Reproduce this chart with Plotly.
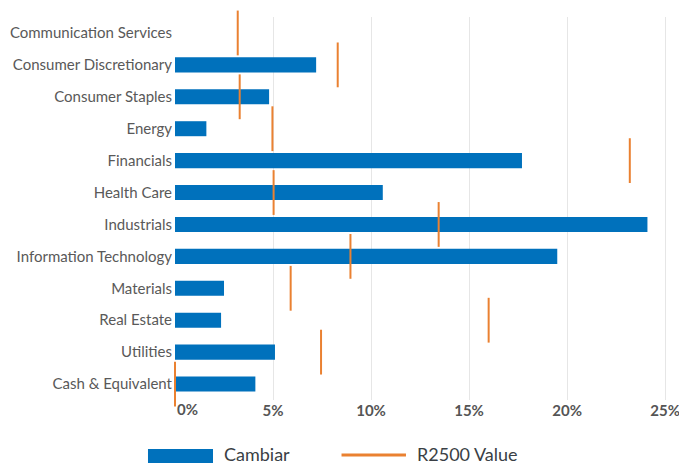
import plotly.graph_objects as go

categories = ["Communication Services", "Consumer Discretionary", "Consumer Staples", "Energy",
              "Financials", "Health Care", "Industrials", "Information Technology",
              "Materials", "Real Estate", "Utilities", "Cash & Equivalent"]
cambiar = [0.0, 7.2, 4.8, 1.6, 17.7, 10.6, 24.1, 19.5, 2.5, 2.35, 5.1, 4.1]
r2500 = [3.2, 8.3, 3.3, 4.97, 23.2, 5.03, 13.45, 8.95, 5.9, 16.0, 7.45, 0.0]
tick_vals = [5, 10, 15, 20, 25]
tick_text = ["5%", "10%", "15%", "20%", "25%"]

BLUE = "#0071bc"
ORANGE = "#ea8131"
FONT = "Lato"

fig = go.Figure()
fig.add_trace(go.Bar(
    y=categories, x=cambiar, orientation="h", name="Cambiar",
    marker=dict(color=BLUE, line=dict(width=0)), width=0.47, showlegend=False,
))
fig.add_trace(go.Scatter(
    y=categories, x=r2500, mode="markers", name="R2500 Value",
    marker=dict(symbol="line-ns", size=32, line=dict(width=2, color=ORANGE), color=ORANGE),
    cliponaxis=False, showlegend=False,
))

fig.update_layout(
    width=679, height=463,
    margin=dict(l=175, r=0, t=17, b=63),
    plot_bgcolor="white", paper_bgcolor="white",
    font=dict(family=FONT, color="#595959", size=14),
    xaxis=dict(range=[0, 25.71], tickvals=tick_vals, ticktext=tick_text,
               showgrid=True, gridcolor="#e6e6e6", gridwidth=1, zeroline=False,
               showline=False, ticks="", automargin=False, ticklabeloverflow="allow",
               tickfont=dict(family=FONT, size=15, color="#555555", weight="bold")),
    yaxis=dict(range=[len(categories) - 0.5, -0.5], showgrid=False, zeroline=False,
               showline=False, ticks="", ticklabelstandoff=2, automargin=False,
               tickfont=dict(family=FONT, size=15, color="#595959")),
    bargap=0.53,
)

# zero tick label (left aligned as in the reference)
fig.add_annotation(x=0, xref="x", y=-0.0235, yref="paper", text="0%", showarrow=False,
                   xanchor="left", yanchor="middle",
                   font=dict(family=FONT, size=15, color="#555555", weight="bold"))

# custom legend
fig.add_shape(type="rect", xref="paper", yref="paper", x0=-0.0536, x1=0.0754,
              y0=-0.128, y1=-0.17, fillcolor=BLUE, line=dict(width=0))
fig.add_shape(type="line", xref="paper", yref="paper", x0=0.3304, x1=0.4583,
              y0=-0.1436, y1=-0.1436, line=dict(color=ORANGE, width=3))
fig.add_annotation(x=0.0933, xref="paper", y=-0.141, yref="paper", text="Cambiar",
                   showarrow=False, xanchor="left", yanchor="middle",
                   font=dict(family=FONT, size=18, color="#3a3f45"))
fig.add_annotation(x=0.4762, xref="paper", y=-0.141, yref="paper", text="R2500 Value",
                   showarrow=False, xanchor="left", yanchor="middle",
                   font=dict(family=FONT, size=18, color="#3a3f45"))

fig.write_html("out.html")
